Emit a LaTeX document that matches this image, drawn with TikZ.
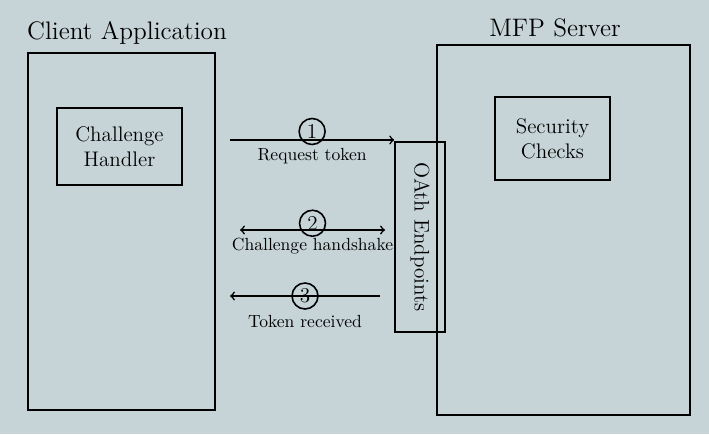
\documentclass[tikz,border=0pt]{standalone}
\definecolor{board}{RGB}{198,212,215}
\begin{document}
\begin{tikzpicture}[line width=0.9pt,
        box/.style={draw,align=center,font=\large},
        num/.style={draw,circle,inner sep=0pt,minimum size=0.52cm,font=\large}]
        \useasboundingbox[fill=board] (0,0) rectangle (14.18,8.68) ;
        % client side
        \node[box,minimum width=3.74cm,minimum height=7.14cm] (client) at (2.43,4.05) {} ;
        \node[font=\Large] (clienttitle) at (2.54,8.02) {Client Application} ;
        \node[box,minimum width=2.5cm,minimum height=1.54cm] (handler) at (2.39,5.75) {Challenge\\Handler} ;
        % server side
        \node[box,minimum width=5.06cm,minimum height=7.4cm] (server) at (11.27,4.08) {} ;
        \node[font=\Large] (servertitle) at (11.1,8.12) {MFP Server} ;
        \node[box,minimum width=2.3cm,minimum height=1.66cm] (checks) at (11.05,5.91) {Security\\Checks} ;
        \node[box,rotate=-90,minimum width=3.8cm,minimum height=1cm] (oath) at (8.4,3.94) {OAth Endpoints} ;
        % the three steps
        \coordinate (req) at (4.6,5.88) ;
        \draw[->] (req) -- (req -| oath.south)
        node[midway,num,above=-3pt] (one) {1}
        node[midway,below=1pt] (reqlbl) {Request token} ;
        \coordinate (hsl) at (4.8,4.08) ;
        \coordinate (hsr) at (7.7,4.08) ;
        \draw[<->] (hsl) -- (hsr)
        node[midway,num,above=-4pt] (two) {2}
        node[midway,below=1pt] (hslbl) {Challenge handshake} ;
        \coordinate (rcvl) at (4.6,2.76) ;
        \coordinate (rcvr) at (7.6,2.76) ;
        \draw[<-] (rcvl) -- (rcvr)
        node[midway,num] (three) {3}
        node[midway,below=7pt] (rcvlbl) {Token received} ;
      \end{tikzpicture}
\end{document}
